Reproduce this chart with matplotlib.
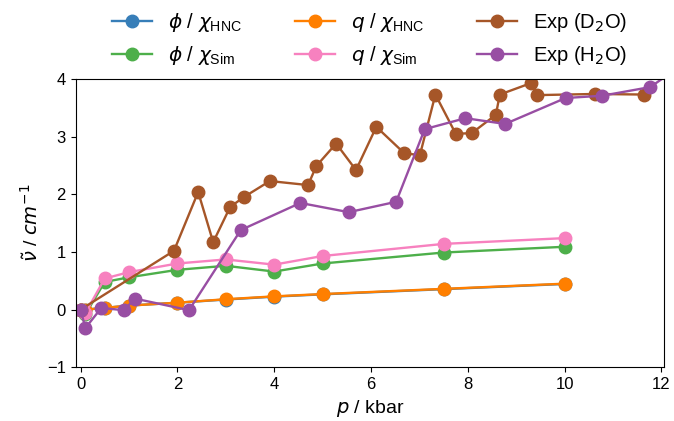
import matplotlib
matplotlib.use("Agg")
import matplotlib.pyplot as plt

plt.rcParams['font.family'] = ['Liberation Sans', 'DejaVu Sans']
plt.rcParams['mathtext.fontset'] = 'dejavusans'

# model pressures (kbar)
p_model = [0, 0.1, 0.5, 1, 2, 3, 4, 5, 7.5, 10]
phi_hnc = [0, 0.0, 0.03, 0.07, 0.12, 0.175, 0.225, 0.265, 0.355, 0.445]
phi_sim = [0, -0.08, 0.48, 0.56, 0.69, 0.76, 0.66, 0.80, 0.99, 1.09]
q_hnc = [0, 0.0, 0.03, 0.07, 0.12, 0.18, 0.23, 0.27, 0.36, 0.45]
q_sim = [0, -0.06, 0.54, 0.65, 0.80, 0.87, 0.78, 0.93, 1.14, 1.24]

# experimental shifts
p_d2o = [0, 1.93, 2.43, 2.74, 3.09, 3.37, 3.91, 4.70, 4.87, 5.28, 5.69, 6.11,
         6.69, 7.01, 7.33, 7.75, 8.08, 8.58, 8.66, 9.31, 9.43, 10.62, 11.64]
nu_d2o = [0, 1.02, 2.04, 1.17, 1.78, 1.95, 2.23, 2.16, 2.49, 2.88, 2.42, 3.17,
          2.71, 2.68, 3.73, 3.05, 3.06, 3.38, 3.73, 3.93, 3.72, 3.74, 3.73]
p_h2o = [0, 0.10, 0.43, 0.89, 1.13, 2.24, 3.31, 4.54, 5.54, 6.52, 7.11, 7.95,
         8.77, 10.02, 10.78, 11.77, 12.4]
nu_h2o = [0, -0.32, 0.03, -0.01, 0.19, -0.01, 1.38, 1.85, 1.69, 1.87, 3.13, 3.32,
          3.22, 3.67, 3.71, 3.86, 4.23]

fig = plt.figure(figsize=(6.74, 4.21), dpi=100)
ax = fig.add_axes([0.1123, 0.1276, 0.8727, 0.6848])

kw = dict(marker='o', markersize=9, linewidth=1.7)
ax.plot(p_model, phi_hnc, color='#377eb8', label=r'$\phi$ / $\chi_\mathregular{HNC}$', **kw)
ax.plot(p_model, phi_sim, color='#4daf4a', label=r'$\phi$ / $\chi_\mathregular{Sim}$', **kw)
ax.plot(p_model, q_hnc, color='#ff7f00', label=r'$q$ / $\chi_\mathregular{HNC}$', **kw)
ax.plot(p_model, q_sim, color='#f781bf', label=r'$q$ / $\chi_\mathregular{Sim}$', **kw)
ax.plot(p_d2o, nu_d2o, color='#a65628', label=r'Exp (D$_2$O)', **kw)
ax.plot(p_h2o, nu_h2o, color='#984ea3', label=r'Exp (H$_2$O)', **kw)

ax.set_xlim(-0.1, 12.05)
ax.set_ylim(-1, 4)
ax.set_xticks(range(0, 13, 2))
ax.set_yticks(range(-1, 5))
ax.tick_params(labelsize=12)
ax.set_xlabel(r'$p$ / kbar', fontsize=14, labelpad=4)
ax.set_ylabel(r'$\tilde{\nu}$ / $cm^{-1}$', fontsize=14, labelpad=4)

ax.legend(loc='lower center', bbox_to_anchor=(0.5, 1.0), ncol=3, frameon=False,
          fontsize=14.5, borderaxespad=0.2, columnspacing=2.6)

fig.savefig('out.png', dpi=100)
